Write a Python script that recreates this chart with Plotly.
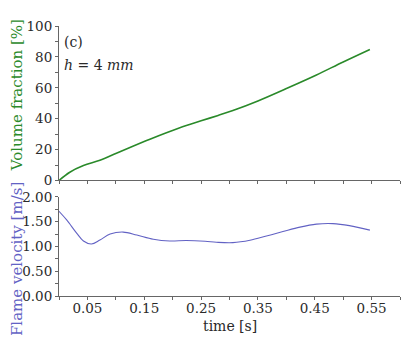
import plotly.graph_objects as go
from plotly.subplots import make_subplots

# 體積分率 (上圖)
t_vf = [0.0, 0.019, 0.043, 0.072, 0.101, 0.131, 0.160, 0.189, 0.224, 0.250,
        0.280, 0.306, 0.350, 0.400, 0.453, 0.500, 0.547]
vol_frac = [0.0, 5.3, 9.6, 13.0, 17.6, 22.3, 26.7, 30.9, 35.6, 38.6,
            42.1, 45.3, 51.5, 59.5, 68.3, 76.7, 84.8]

# 火焰速度 (下圖)
t_fv = [0.0, 0.0135, 0.031, 0.043, 0.057, 0.072, 0.090, 0.113, 0.137, 0.166,
        0.195, 0.224, 0.257, 0.277, 0.306, 0.336, 0.365, 0.394, 0.424, 0.453,
        0.482, 0.511, 0.547]
flame_vel = [1.71, 1.535, 1.27, 1.11, 1.05, 1.13, 1.25, 1.29, 1.23, 1.145,
             1.11, 1.12, 1.105, 1.085, 1.077, 1.125, 1.21, 1.30, 1.39, 1.45,
             1.46, 1.42, 1.33]

x_ticks = [0.05, 0.15, 0.25, 0.35, 0.45, 0.55]

GREEN = "#2a8a2a"
BLUE = "#6262c4"
FONT = "DejaVu Serif"

fig = make_subplots(rows=2, cols=1, shared_xaxes=True)

fig.add_trace(go.Scatter(x=t_vf, y=vol_frac, mode="lines", line_shape="spline",
                         line=dict(color=GREEN, width=1.6), showlegend=False),
              row=1, col=1)
fig.add_trace(go.Scatter(x=t_fv, y=flame_vel, mode="lines", line_shape="spline",
                         line=dict(color=BLUE, width=1.1), showlegend=False),
              row=2, col=1)

axis_common = dict(showgrid=False, zeroline=False, showline=True,
                   linecolor="#666", linewidth=1, ticks="outside", ticklen=3,
                   tickcolor="#666", tickfont=dict(family=FONT, size=13.5, color="#2a2a2a"))

fig.update_xaxes(range=[0, 0.6], dtick=0.05, tick0=0, showticklabels=False,
                 domain=[0, 1], **axis_common)
fig.update_xaxes(row=2, col=1, showticklabels=True, tickmode="array",
                 tickvals=x_ticks, ticktext=[f"{v:.2f}" for v in x_ticks],
                 ticklabelstandoff=-3)
# 次刻度
fig.update_xaxes(row=2, col=1, minor=dict(ticks="outside", ticklen=3,
                                          tickcolor="#666", dtick=0.05, tick0=0))

fig.update_yaxes(row=1, col=1, range=[0, 100], dtick=20, domain=[0.428, 1.0],
                 minor=dict(ticks="outside", ticklen=3, tickcolor="#666", dtick=10),
                 **axis_common)
fig.update_yaxes(row=2, col=1, range=[0, 2], dtick=0.5, tickformat=".2f",
                 domain=[0, 0.367],
                 minor=dict(ticks="outside", ticklen=3, tickcolor="#666", dtick=0.25),
                 **axis_common)

annos = [
    dict(text="Volume fraction [%]", x=-0.123, y=0.744, textangle=-90,
         font=dict(color=GREEN, size=15)),
    dict(text="Flame velocity [m/s]", x=-0.123, y=0.137, textangle=-90,
         font=dict(color=BLUE, size=15)),
    dict(text="time [s]", x=0.5, y=-0.11, font=dict(color="#2a2a2a", size=14)),
    dict(text="(c)", x=0.008, y=0.94, xanchor="left",
         font=dict(color="#2a2a2a", size=14)),
    dict(text="<i>h</i> = 4 <i>mm</i>", x=0.008, y=0.855, xanchor="left",
         font=dict(color="#2a2a2a", size=14)),
]
for a in annos:
    a.setdefault("xanchor", "center")
    a["font"]["family"] = FONT
    fig.add_annotation(xref="paper", yref="paper", showarrow=False,
                       yanchor="middle", **a)

# 頁面 body 有 8px 邊距，圖表尺寸與邊界要扣掉
fig.update_layout(
    width=403, height=327,
    margin=dict(l=51, r=11, t=18, b=39),
    plot_bgcolor="white", paper_bgcolor="white",
    font=dict(family=FONT),
)

fig.write_html("out.html")
